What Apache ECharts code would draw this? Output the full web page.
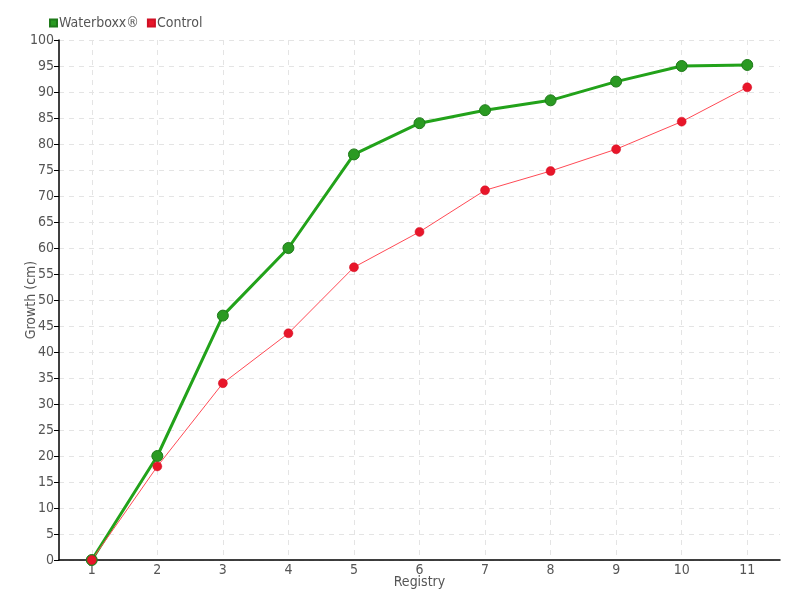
<!DOCTYPE html>
<html><head><meta charset="utf-8">
<script src="https://cdn.jsdelivr.net/npm/echarts@6/dist/echarts.min.js"></script>
<style>html,body{margin:0;padding:0;background:#fff}#c{width:800px;height:600px}</style>
</head><body><div id="c"></div>
<script>
var categories = ['1','2','3','4','5','6','7','8','9','10','11'];
var waterboxx = [0, 20, 47, 60, 78, 84, 86.5, 88.4, 92, 95, 95.2];
var control = [0, 18, 34, 43.6, 56.3, 63.1, 71.1, 74.8, 79, 84.3, 90.9];
var seriesNames = ['Waterboxx®', 'Control'];

var font = '"Liberation Sans Narrow", "DejaVu Sans Condensed", sans-serif';
var chart = echarts.init(document.getElementById('c'));
chart.setOption({
  animation: false,
  textStyle: {fontFamily: font},
  legend: {
    left: 44, top: 11, itemWidth: 7, itemHeight: 7, itemGap: 8,
    icon: 'rect',
    textStyle: {fontFamily: font, fontSize: 14, color: '#555', padding: [0,0,0,-3]},
    data: seriesNames
  },
  grid: {left: 59, right: 20, top: 40, bottom: 40, containLabel: false},
  xAxis: {
    type: 'category', data: categories, boundaryGap: true,
    name: 'Registry', nameLocation: 'middle', nameGap: 15, nameMoveOverlap: false,
    nameTextStyle: {fontFamily: font, fontSize: 14, color: '#555'},
    axisLine: {lineStyle: {color: '#000', width: 1.5}},
    axisTick: {alignWithLabel: true, length: 5, lineStyle: {color: '#000'}},
    axisLabel: {fontFamily: font, fontSize: 14, color: '#555', margin: 3},
    splitLine: {show: true, alignWithLabel: true, lineStyle: {type: [5,5], color: '#e4e4e4'}}
  },
  yAxis: {
    type: 'value', min: 0, max: 100, interval: 5,
    name: 'Growth (cm)', nameLocation: 'middle', nameGap: 21, nameRotate: 90, nameMoveOverlap: false,
    nameTextStyle: {fontFamily: font, fontSize: 14, color: '#555'},
    axisLine: {show: true, lineStyle: {color: '#000', width: 1.5}},
    axisTick: {show: true, length: 5, lineStyle: {color: '#000'}},
    axisLabel: {fontFamily: font, fontSize: 14, color: '#555', margin: 5},
    splitLine: {show: true, lineStyle: {type: [5,5], color: '#e4e4e4'}}
  },
  series: [
    {
      name: seriesNames[0], type: 'line', data: waterboxx,
      symbol: 'circle', symbolSize: 11,
      color: '#22a21a',
      lineStyle: {color: '#22a21a', width: 3},
      itemStyle: {color: '#2a9a22', borderColor: '#1f7a1a', borderWidth: 1}
    },
    {
      name: seriesNames[1], type: 'line', data: control,
      symbol: 'circle', symbolSize: 9,
      color: '#e8162a',
      lineStyle: {color: '#ff4a55', width: 1},
      itemStyle: {color: '#e8162a', borderColor: '#d01025', borderWidth: 0.5}
    }
  ]
});
</script></body></html>
